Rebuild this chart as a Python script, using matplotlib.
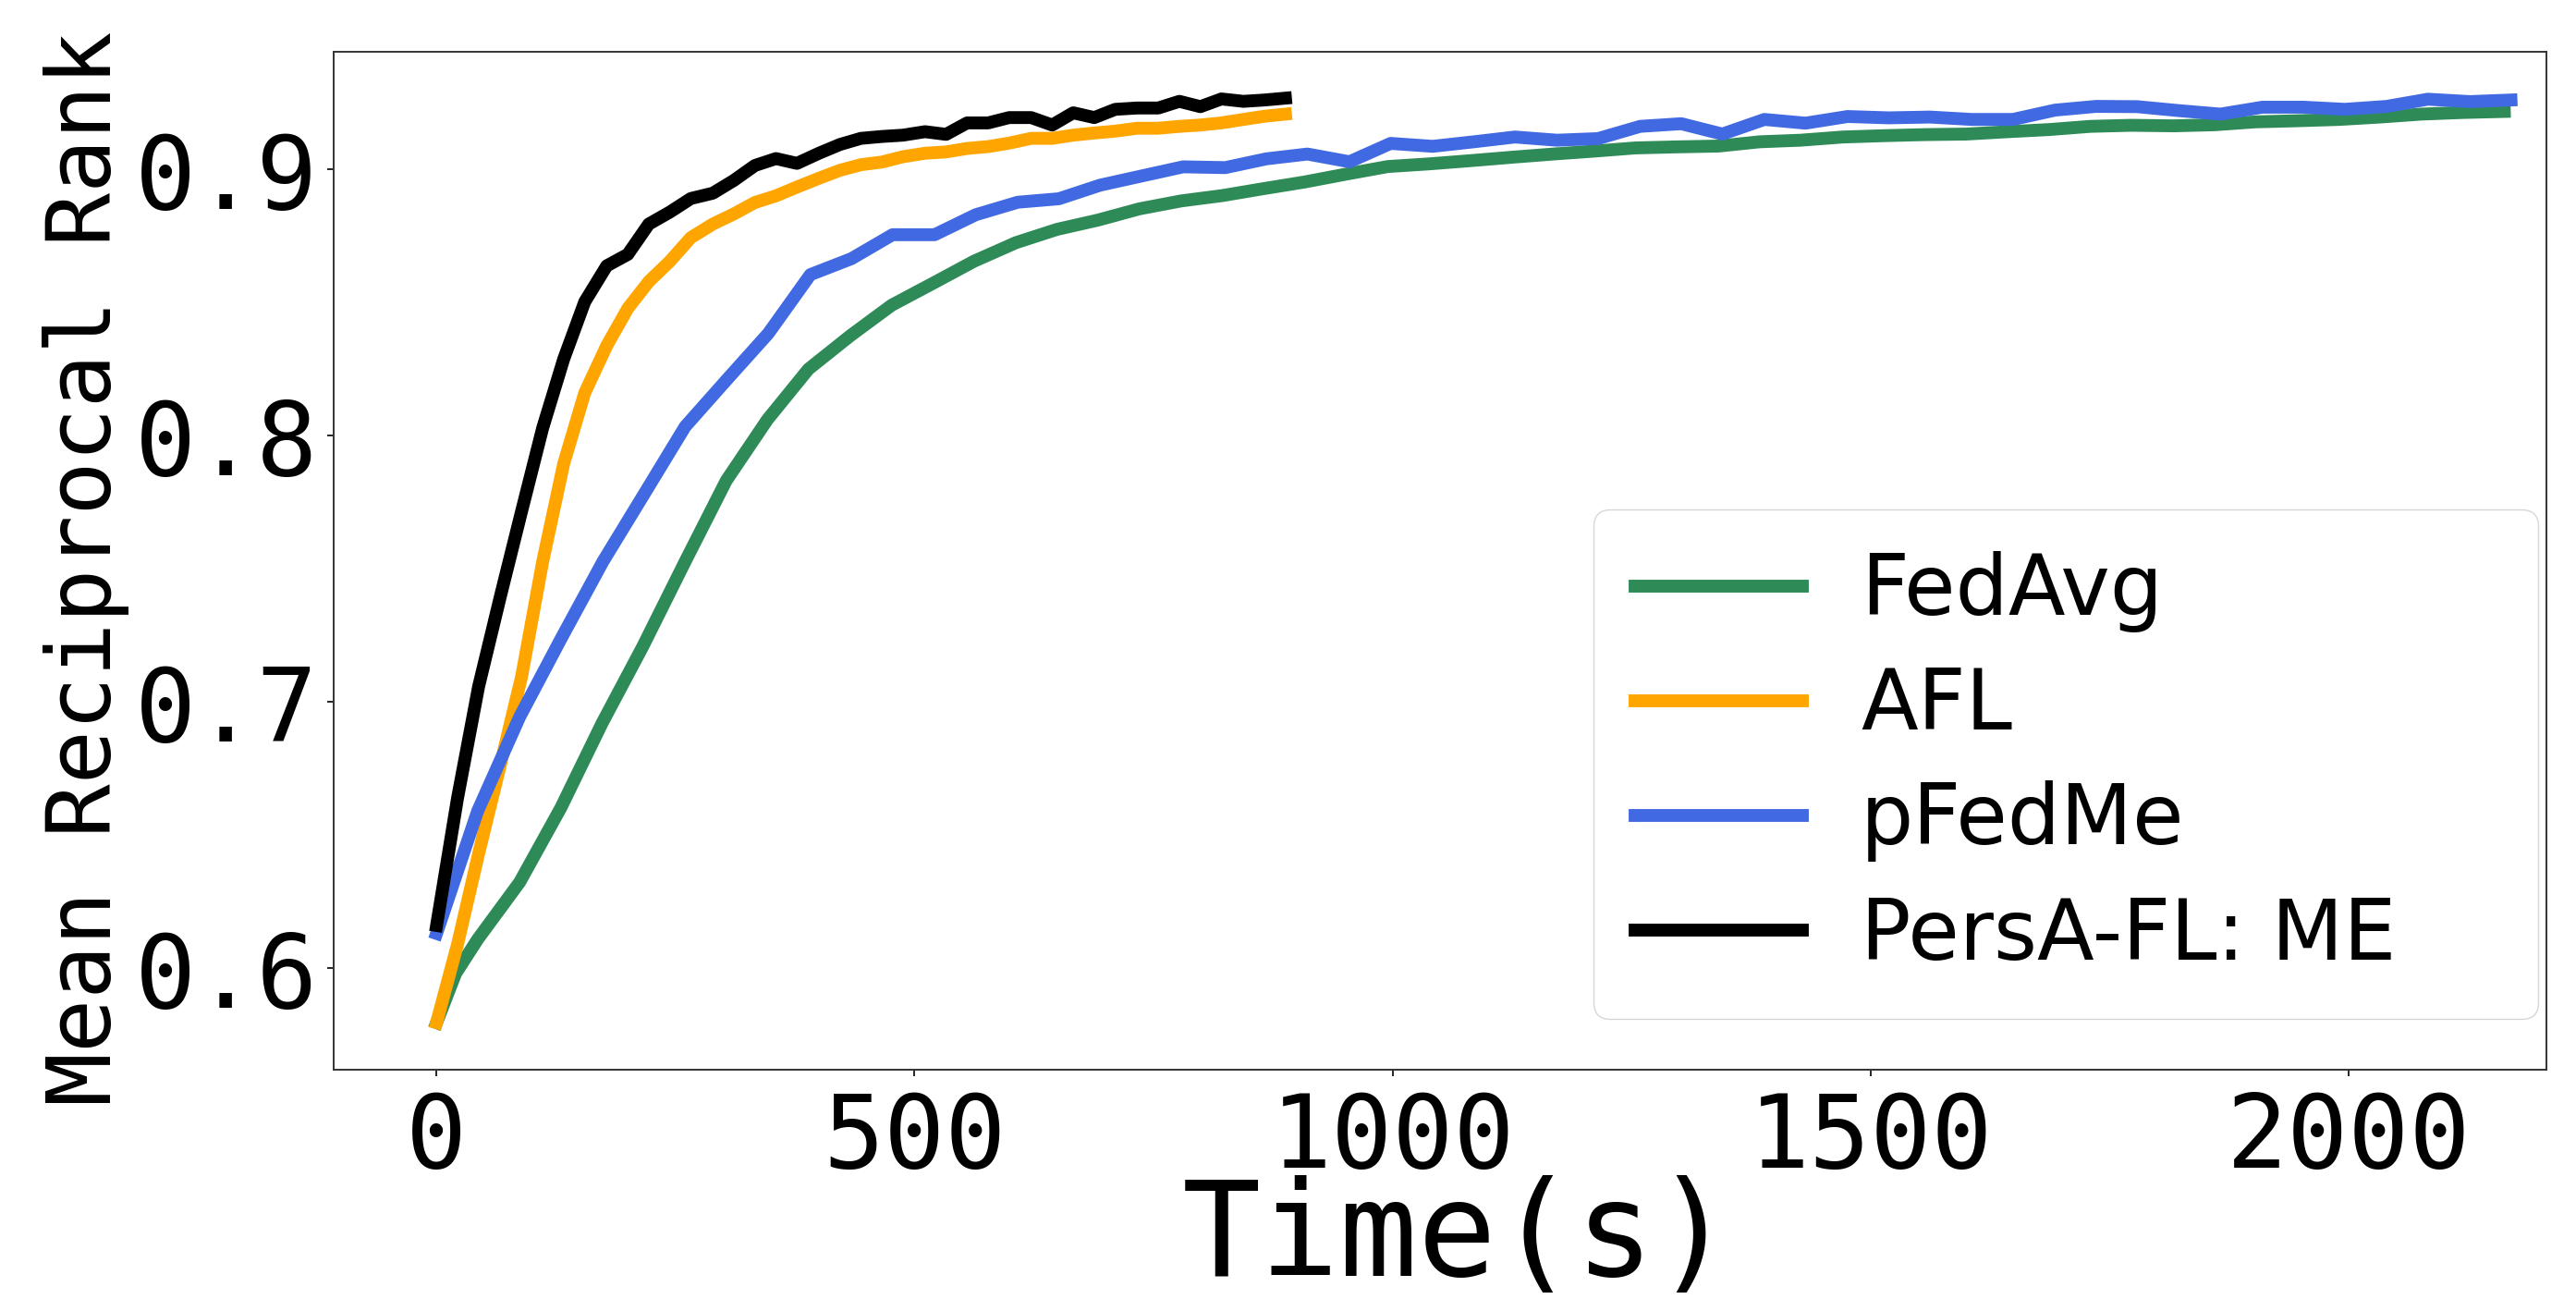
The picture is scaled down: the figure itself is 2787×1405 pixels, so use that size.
import matplotlib
matplotlib.use("Agg")
import matplotlib.pyplot as plt

# 时间轴 (s)
t_fast = [0, 22, 44, 67, 89, 111, 133, 155, 178, 200, 222, 244, 266, 289, 311, 333,
          355, 377, 400, 422, 444, 466, 488, 511, 533, 555, 577, 599, 622, 644, 666,
          688, 710, 733, 755, 777, 799, 821, 844, 866, 888]
t_pfedme = [0, 43, 87, 130, 174, 217, 260, 304, 347, 391, 434, 477, 521, 564, 608,
            651, 694, 738, 781, 825, 868, 911, 955, 998, 1042, 1085, 1128, 1172, 1215,
            1259, 1302, 1345, 1389, 1432, 1476, 1519, 1562, 1606, 1649, 1693, 1736,
            1779, 1823, 1866, 1910, 1953, 1996, 2040, 2083, 2127, 2170]
t_fedavg = [0, 20, 43, 87, 130, 173, 216, 260, 303, 346, 389, 433, 476, 519, 562, 606,
            649, 692, 735, 779, 822, 865, 908, 952, 995, 1038, 1081, 1125, 1168, 1211,
            1254, 1298, 1341, 1384, 1427, 1471, 1514, 1557, 1600, 1644, 1687, 1730,
            1773, 1817, 1860, 1903, 1946, 1990, 2033, 2076, 2119, 2163]

# MRR 数据
mrr_fedavg = [0.5795, 0.598, 0.6108, 0.6323, 0.6602, 0.6919, 0.721, 0.7527, 0.7831,
              0.806, 0.825, 0.8376, 0.849, 0.8572, 0.8655, 0.8725, 0.8775, 0.881,
              0.8852, 0.8882, 0.8902, 0.8928, 0.8953, 0.8983, 0.9011, 0.9021, 0.9033,
              0.9046, 0.9058, 0.9069, 0.9081, 0.9085, 0.9088, 0.9104, 0.911, 0.9122,
              0.9127, 0.9131, 0.9133, 0.9142, 0.915, 0.9162, 0.9166, 0.9164, 0.9168,
              0.9179, 0.9183, 0.9188, 0.9197, 0.9208, 0.9214, 0.9218]
mrr_afl = [0.5795, 0.609, 0.643, 0.6767, 0.7096, 0.7527, 0.7895, 0.8161, 0.8338,
           0.8478, 0.8579, 0.8655, 0.8744, 0.8795, 0.8833, 0.8876, 0.8901, 0.8934,
           0.8967, 0.8997, 0.9018, 0.9028, 0.9048, 0.9061, 0.9066, 0.9079, 0.9086,
           0.9099, 0.9117, 0.9117, 0.9129, 0.9137, 0.9144, 0.9155, 0.9155, 0.9162,
           0.9167, 0.9175, 0.9188, 0.92, 0.9208]
mrr_pfedme = [0.613, 0.659, 0.6944, 0.7236, 0.7527, 0.778, 0.8034, 0.8212, 0.8384,
              0.8605, 0.8665, 0.8755, 0.8755, 0.883, 0.8877, 0.889, 0.8941, 0.8976,
              0.901, 0.9007, 0.904, 0.9058, 0.9029, 0.9098, 0.9087, 0.9104, 0.9122,
              0.911, 0.9116, 0.9162, 0.9172, 0.9133, 0.9188, 0.9174, 0.9199, 0.9194,
              0.9197, 0.9188, 0.9188, 0.9223, 0.9237, 0.9236, 0.9221, 0.9208, 0.9234,
              0.9234, 0.9226, 0.9237, 0.9264, 0.9255, 0.9261]
mrr_persa = [0.616, 0.664, 0.7058, 0.74, 0.7717, 0.8029, 0.8288, 0.8503, 0.8638,
             0.8681, 0.8795, 0.884, 0.8891, 0.8911, 0.8959, 0.9015, 0.9041, 0.9023,
             0.9061, 0.9094, 0.9117, 0.9124, 0.9129, 0.9142, 0.9132, 0.9175, 0.9175,
             0.9195, 0.9195, 0.9167, 0.9213, 0.9195, 0.9226, 0.9231, 0.9231, 0.9256,
             0.9236, 0.9265, 0.9256, 0.9261, 0.9268]

labels = ['FedAvg', 'AFL', 'pFedMe', 'PersA-FL: ME']
colors = ['seagreen', 'orange', 'royalblue', 'black']

mono = 'DejaVu Sans Mono'

fig = plt.figure(figsize=(27.87, 14.05), dpi=100)
ax = fig.add_axes([0.1294, 0.1767, 0.8591, 0.7834])

series = [(t_fedavg, mrr_fedavg), (t_fast, mrr_afl),
          (t_pfedme, mrr_pfedme), (t_fast, mrr_persa)]
for (t, v), lab, c in zip(series, labels, colors):
    ax.plot(t, v, color=c, linewidth=10, label=lab)

ax.set_xlim(-108, 2207)
ax.set_ylim(0.5619, 0.9442)
ax.set_xticks([0, 500, 1000, 1500, 2000])
ax.set_yticks([0.6, 0.7, 0.8, 0.9])

ax.tick_params(axis='both', labelsize=79, length=5, width=1.2)
ax.tick_params(axis='x', pad=10)
ax.tick_params(axis='y', pad=6.5)
for lbl in ax.get_xticklabels() + ax.get_yticklabels():
    lbl.set_fontfamily(mono)

for sp in ax.spines.values():
    sp.set_linewidth(1.4)
    sp.set_color('#333333')

ax.set_xlabel('Time(s)', fontsize=102, fontfamily=mono)
ax.set_ylabel('Mean Reciprocal Rank', fontsize=69.5, fontfamily=mono)
ax.xaxis.set_label_coords(0.508, -0.104)
ax.yaxis.set_label_coords(-0.092, 0.492)

# 图例（右侧留白较大）
ax.legend(loc='lower left', bbox_to_anchor=(0.5694, 0.05, 0.4268, 0.3),
          mode='expand', borderaxespad=0, labelspacing=0.4, handletextpad=0.7,
          borderpad=0.5, prop={'family': 'DejaVu Sans', 'size': 65})

fig.savefig('out.png', dpi=100)
